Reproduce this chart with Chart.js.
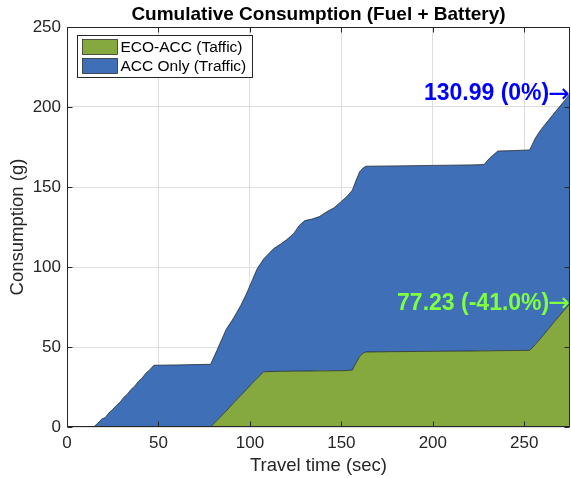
<!DOCTYPE html>
<html>
<head>
<meta charset="utf-8">
<script src="https://cdn.jsdelivr.net/npm/chart.js@4/dist/chart.umd.min.js"></script>
<style>
  html, body { margin: 0; padding: 0; background: #ffffff; }
  #wrap { width: 571px; height: 478px; }
</style>
</head>
<body>
<div id="wrap"><canvas id="c" width="571" height="478"></canvas></div>
<script>
// Travel time samples (sec)
const travelTime = [0, 14.5, 17, 19, 21, 23, 25, 27, 29, 31, 33, 35, 37, 39, 41, 43, 45, 47.5,
  60, 70, 78.5, 82, 87, 91, 95, 98, 101, 104, 107.5, 110, 113, 117, 120, 124, 127, 130, 134,
  138, 142, 146, 150, 153, 156, 158, 160, 162, 163.5, 180, 200, 220, 228, 231, 235.5, 245,
  253, 256, 259, 263, 267, 270, 273, 275];

// Cumulative consumption (g), ECO-ACC — bottom layer
const ecoAcc = [0, 0, 0, 0, 0, 0, 0, 0, 0, 0, 0, 0, 0, 0, 0, 0, 0, 0,
  0, 0, 0, 4, 10, 15, 19.7, 23.3, 27, 30.5, 34.5, 34.6, 34.7, 34.8, 34.8, 34.9, 34.9, 35, 35,
  35.1, 35.1, 35.2, 35.2, 35.3, 35.6, 40, 44, 46.3, 46.9, 47.1, 47.3, 47.5, 47.6, 47.6, 47.7, 47.8,
  47.9, 51.5, 55.5, 61, 66.5, 70.5, 74.5, 77.23];

// Cumulative consumption (g), ACC only — stacked on top
const accOnly = [0, 0, 2.5, 5, 6, 9, 11, 13.5, 15.5, 18.5, 20.5, 23.5, 25.5, 28.5, 30.5, 33.5, 35.5, 38.6,
  38.8, 39.0, 39.2, 44, 51, 53, 56.3, 59.7, 64, 68.5, 70.5, 73.4, 76.8, 79.7, 82.2, 86.1, 91.1, 94, 95,
  96.4, 99.4, 101.8, 105.8, 108.7, 112.4, 114, 115.6, 115.7, 116.1, 116.1, 116.2, 116.3, 116.4, 120.4, 124.8, 125,
  125.3, 129, 130.2, 130.4, 130.6, 130.7, 130.85, 130.99];

const seriesLabels = ['ECO-ACC (Taffic)', 'ACC Only (Traffic)'];
const seriesColors = ['#86A93F', '#3F6FB6'];
const annotationColors = ['#7FFF3F', '#0000FF'];
const xTicks = [0, 50, 100, 150, 200, 250];
const yTicks = [0, 50, 100, 150, 200, 250];

const FONT = "'Liberation Sans', Arial, Helvetica, sans-serif";
const AXIS_INK = '#262626';

const toPoints = vals => travelTime.map((t, i) => ({ x: t, y: vals[i] }));

// Axes box with inward tick marks on all four sides
const framePlugin = {
  id: 'frame',
  afterDatasetsDraw(chart) {
    const { ctx, chartArea: a, scales } = chart;
    const L = Math.round(a.left) + 0.5, R = Math.round(a.right) - 0.5;
    const T = Math.round(a.top) + 0.5, B = Math.round(a.bottom) - 0.5;
    const len = 5;
    ctx.save();
    ctx.strokeStyle = AXIS_INK;
    ctx.lineWidth = 1;
    ctx.beginPath();
    scales.x.ticks.forEach(t => {
      const px = Math.round(scales.x.getPixelForValue(t.value)) + 0.5;
      ctx.moveTo(px, B); ctx.lineTo(px, B - len);
      ctx.moveTo(px, T); ctx.lineTo(px, T + len);
    });
    scales.y.ticks.forEach(t => {
      const py = Math.round(scales.y.getPixelForValue(t.value)) + 0.5;
      ctx.moveTo(L, py); ctx.lineTo(L + len, py);
      ctx.moveTo(R, py); ctx.lineTo(R - len, py);
    });
    ctx.stroke();
    ctx.strokeRect(L, T, R - L, B - T);
    ctx.restore();
  }
};

// End-of-run value labels with arrows
const endLabelPlugin = {
  id: 'endLabels',
  afterDatasetsDraw(chart) {
    const { ctx } = chart;
    const last = travelTime.length - 1;
    const ref = accOnly[last];
    const texts = [
      ecoAcc[last].toFixed(2) + ' (' + ((ecoAcc[last] / ref - 1) * 100).toFixed(1) + '%)',
      ref.toFixed(2) + ' (0%)'
    ];
    ctx.save();
    texts.forEach((txt, i) => {
      const el = chart.getDatasetMeta(i).data[last];
      const x = el.x, y = el.y;
      ctx.fillStyle = annotationColors[i];
      ctx.textBaseline = 'middle';
      ctx.textAlign = 'right';
      ctx.font = "26px 'DejaVu Sans', sans-serif";
      const arrow = '\u2192';
      const aw = ctx.measureText(arrow).width;
      ctx.fillText(arrow, x, y + 1);
      ctx.font = 'bold 23px ' + FONT;
      ctx.fillText(txt, x - aw + 1, y);
    });
    ctx.restore();
  }
};

// Boxed legend in the upper-left corner of the axes
const boxLegendPlugin = {
  id: 'boxLegend',
  afterDraw(chart) {
    const { ctx, chartArea: a } = chart;
    const x0 = Math.round(a.left) + 10.5, y0 = Math.round(a.top) + 8.5;
    const w = 175, h = 42;
    ctx.save();
    ctx.fillStyle = '#ffffff';
    ctx.fillRect(x0, y0, w, h);
    ctx.strokeStyle = AXIS_INK;
    ctx.lineWidth = 1;
    ctx.strokeRect(x0, y0, w, h);
    ctx.font = '15.5px ' + FONT;
    ctx.textBaseline = 'middle';
    ctx.textAlign = 'left';
    chart.data.datasets.forEach((ds, i) => {
      const py = y0 + 4 + i * 19;
      ctx.fillStyle = ds.backgroundColor;
      ctx.fillRect(x0 + 5, py, 35, 15);
      ctx.strokeStyle = '#1a1a1a';
      ctx.lineWidth = 0.7;
      ctx.strokeRect(x0 + 5, py, 35, 15);
      ctx.fillStyle = '#000000';
      ctx.fillText(ds.label, x0 + 43, py + 8);
    });
    ctx.restore();
  }
};

new Chart(document.getElementById('c'), {
  type: 'line',
  data: {
    datasets: [
      {
        label: seriesLabels[0],
        data: toPoints(ecoAcc),
        backgroundColor: seriesColors[0],
        borderColor: '#1a1a1a',
        borderWidth: 0.7,
        fill: 'origin',
        pointRadius: 0,
        tension: 0
      },
      {
        label: seriesLabels[1],
        data: toPoints(accOnly),
        backgroundColor: seriesColors[1],
        borderColor: '#1a1a1a',
        borderWidth: 0.7,
        fill: '-1',
        pointRadius: 0,
        tension: 0
      }
    ]
  },
  options: {
    responsive: false,
    animation: false,
    devicePixelRatio: 1,
    layout: { padding: { left: 0, right: 1, top: 0, bottom: 0 } },
    plugins: {
      legend: { display: false },
      tooltip: { enabled: false },
      title: {
        display: true,
        fullSize: false,
        text: 'Cumulative Consumption (Fuel + Battery)',
        color: '#000000',
        font: { family: FONT, size: 19, weight: 'bold', lineHeight: 1.2 },
        padding: { top: 3, bottom: 1.2 }
      }
    },
    scales: {
      x: {
        type: 'linear',
        min: 0,
        max: travelTime[travelTime.length - 1],
        afterBuildTicks: s => { s.ticks = xTicks.map(v => ({ value: v })); },
        afterFit: s => { s.height = 51; },
        ticks: { color: AXIS_INK, font: { family: FONT, size: 17 }, padding: 6, maxRotation: 0 },
        grid: { color: '#dedede', drawTicks: false },
        border: { display: false },
        title: {
          display: true,
          text: 'Travel time (sec)',
          color: AXIS_INK,
          font: { family: FONT, size: 18.5, lineHeight: 1.2 },
          padding: { top: 0, bottom: 0.5 }
        }
      },
      y: {
        type: 'linear',
        stacked: true,
        min: 0,
        max: 250,
        afterBuildTicks: s => { s.ticks = yTicks.map(v => ({ value: v })); },
        afterFit: s => { s.width = 67; },
        ticks: { color: AXIS_INK, font: { family: FONT, size: 17 }, padding: 6 },
        grid: { color: '#dedede', drawTicks: false },
        border: { display: false },
        title: {
          display: true,
          text: 'Consumption (g)',
          color: AXIS_INK,
          font: { family: FONT, size: 18.5, lineHeight: 1.2 },
          padding: { top: 7, bottom: 0 }
        }
      }
    }
  },
  plugins: [framePlugin, endLabelPlugin, boxLegendPlugin]
});
</script>
</body>
</html>
